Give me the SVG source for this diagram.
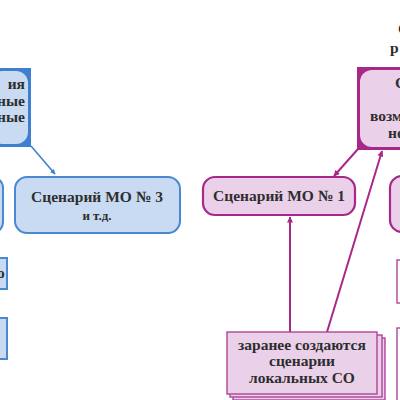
<svg xmlns="http://www.w3.org/2000/svg" width="400" height="400" viewBox="0 0 400 400">
<defs>
<style>
.t{font-family:'Liberation Serif','DejaVu Serif',serif;font-weight:700;fill:#2e2e2e;font-size:15.5px}
.ts{font-family:'Liberation Serif','DejaVu Serif',serif;font-weight:700;fill:#2e2e2e;font-size:13px}
.bfill{fill:#c8dbf2;stroke:#4a88d0;stroke-width:2}
.pfill{fill:#ead0e8;stroke:#a8288a;stroke-width:2.2}
.pst{fill:#ead0e8;stroke:#b0449a;stroke-width:1.4}
.bl{stroke:#3f7fcf;stroke-width:1.6;fill:none}
.pl{stroke:#a8288a;stroke-width:2;fill:none}
</style>
<marker id="ab" viewBox="0 0 10 10" refX="9" refY="5" markerWidth="6" markerHeight="5" orient="auto" markerUnits="userSpaceOnUse"><path d="M0,0 L10,5 L0,10 z" fill="#3f7fcf"/></marker>
<marker id="ap" viewBox="0 0 10 10" refX="9" refY="5" markerWidth="7" markerHeight="6" orient="auto" markerUnits="userSpaceOnUse"><path d="M0,0 L10,5 L0,10 z" fill="#a8288a"/></marker>
</defs>
<rect width="400" height="400" fill="#ffffff"/>

<g id="connectors">
<line class="bl" x1="31" y1="146" x2="55" y2="174" marker-end="url(#ab)"/>
<line class="pl" x1="358" y1="149" x2="334" y2="176" marker-end="url(#ap)"/>
<line class="pl" x1="290" y1="332" x2="290" y2="217" marker-end="url(#ap)"/>
<line class="pl" x1="327" y1="332" x2="382" y2="151" marker-end="url(#ap)"/>
</g>

<g id="node-blue-top">
<rect x="-10" y="68" width="41" height="79" fill="#3f7fcf"/>
<rect x="-10" y="71" width="38" height="73" rx="12" fill="#c8dbf2"/>
<text class="t" x="25" y="89" text-anchor="end">ия</text>
<text class="t" x="25" y="106" text-anchor="end">ные</text>
<text class="t" x="25" y="122" text-anchor="end">ные</text>
</g>

<g id="node-blue-left">
<rect class="bfill" x="-20" y="177" width="23" height="56" rx="11"/>
</g>

<g id="node-mo3">
<rect class="bfill" x="15" y="177" width="165" height="56" rx="12"/>
<text class="t" x="97" y="202" text-anchor="middle">Сценарий МО № 3</text>
<text class="ts" x="97" y="220" text-anchor="middle">и т.д.</text>
</g>

<g id="node-blue-small1">
<rect class="bfill" x="-10" y="258" width="17" height="31" stroke-width="1.6"/>
<text class="t" x="-3" y="278">о</text>
</g>
<g id="node-blue-small2">
<rect class="bfill" x="-10" y="318" width="17" height="41" stroke-width="1.6"/>
</g>

<g id="node-purple-top">
<text class="t" x="398" y="34" font-size="16">С</text>
<text class="t" x="390" y="53" font-size="17">р</text>
<rect x="357" y="67" width="80" height="83" fill="#a8288a"/>
<rect x="360" y="70" width="80" height="77" rx="12" fill="#ead0e8"/>
<text class="t" x="395" y="88">С</text>
<text class="t" x="370" y="121">возм</text>
<text class="t" x="388" y="138">но</text>
</g>

<g id="node-mo1">
<rect class="pfill" x="203" y="177" width="152" height="38" rx="12"/>
<text class="t" x="279" y="201" text-anchor="middle">Сценарий МО № 1</text>
</g>

<g id="node-purple-right">
<rect class="pfill" x="390" y="176" width="40" height="56" rx="12"/>
<rect x="397" y="260" width="10" height="43" fill="none" stroke="#b0449a" stroke-width="1.4"/>
<rect x="397" y="328" width="10" height="80" fill="none" stroke="#b0449a" stroke-width="1.4"/>
</g>

<g id="node-local">
<rect class="pst" x="233" y="338" width="152" height="62"/>
<rect class="pst" x="230" y="335" width="152" height="62"/>
<rect class="pst" x="227" y="332" width="150" height="62"/>
<text class="t" x="302" y="350" text-anchor="middle">заранее создаются</text>
<text class="t" x="302" y="366" text-anchor="middle">сценарии</text>
<text class="t" x="302" y="383" text-anchor="middle">локальных СО</text>
</g>
</svg>
